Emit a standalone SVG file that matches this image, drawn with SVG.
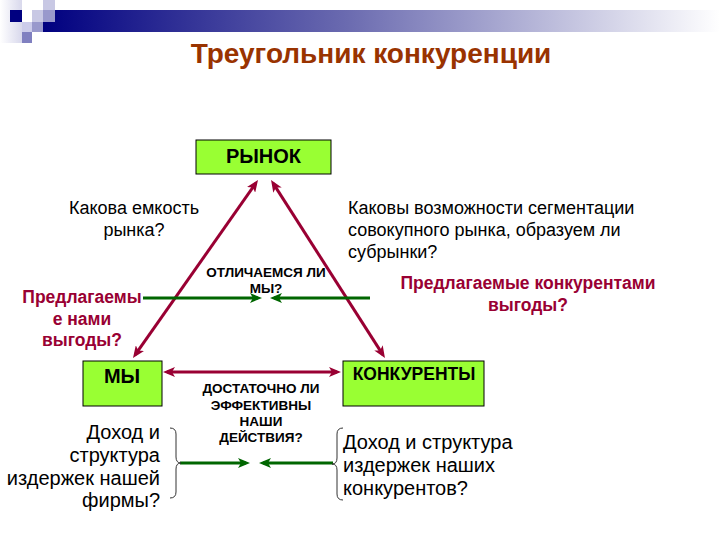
<svg xmlns="http://www.w3.org/2000/svg" width="720" height="540" viewBox="0 0 720 540">
<style>
.t{font-family:"Liberation Sans",Arial,sans-serif;fill:#000}
.b{font-weight:bold}
.red{fill:#990033;font-weight:bold}
.box{fill:#99ff33;stroke:#000;stroke-width:1}
.ra{stroke:#990033;stroke-width:3;fill:none}
.ga{stroke:#006600;stroke-width:3;fill:none}
.br{stroke:#333;stroke-width:1;fill:none}
</style>
<defs>
<linearGradient id="bar" x1="0" y1="0" x2="1" y2="0">
<stop offset="0" stop-color="#000080"/>
<stop offset="0.45" stop-color="#6b6bb0"/>
<stop offset="1" stop-color="#ffffff"/>
</linearGradient>
<linearGradient id="lv" x1="0" y1="0" x2="1" y2="0">
<stop offset="0" stop-color="#ffffff"/>
<stop offset="1" stop-color="#d8d8ec"/>
</linearGradient>
<marker id="rh" viewBox="0 0 12 10" refX="8" refY="5" markerWidth="12" markerHeight="10" markerUnits="userSpaceOnUse" orient="auto-start-reverse">
<path d="M0,0 L12,5 L0,10 L3,5 z" fill="#990033"/>
</marker>
<marker id="gh" viewBox="0 0 12 10" refX="8" refY="5" markerWidth="12" markerHeight="10" markerUnits="userSpaceOnUse" orient="auto-start-reverse">
<path d="M0,0 L12,5 L0,10 L3,5 z" fill="#006600"/>
</marker>
</defs>
<rect width="720" height="540" fill="#fff"/>
<g id="decor">
<rect x="0" y="0" width="22" height="43" fill="url(#lv)"/>
<rect x="43" y="10" width="677" height="22" fill="url(#bar)"/>
<rect x="10" y="10" width="12" height="12" fill="#000080"/>
<rect x="43" y="0" width="12" height="10" fill="#c8c8e4"/>
<rect x="32" y="10" width="11" height="12" fill="#c8c8e4"/>
<rect x="43" y="10" width="12" height="12" fill="#9999cc"/>
<rect x="22" y="22" width="10" height="10" fill="#ccccea"/>
<rect x="32" y="22" width="11" height="10" fill="#9999cc"/>
<rect x="22" y="32" width="10" height="11" fill="#8080c0"/>
</g>
<text class="t" x="371" y="63" text-anchor="middle" font-size="28" font-weight="bold" style="fill:#993300">Треугольник конкуренции</text>
<g id="connectors">
<line class="ra" x1="135.3" y1="354.7" x2="255.7" y2="183.3" marker-start="url(#rh)" marker-end="url(#rh)"/>
<line class="ra" x1="273.2" y1="183.4" x2="382.8" y2="354.6" marker-start="url(#rh)" marker-end="url(#rh)"/>
<line class="ra" x1="167" y1="372" x2="337" y2="372" marker-start="url(#rh)" marker-end="url(#rh)"/>
<line class="ga" x1="143" y1="298" x2="258" y2="298" marker-end="url(#gh)"/>
<line class="ga" x1="370" y1="298" x2="274" y2="298" marker-end="url(#gh)"/>
<line class="ga" x1="180" y1="463" x2="246" y2="463" marker-end="url(#gh)"/>
<line class="ga" x1="333" y1="463" x2="263" y2="463" marker-end="url(#gh)"/>
<path class="br" d="M170,428 Q176,428 176,434 L176,457 Q176,463 181,463 Q176,463 176,469 L176,492 Q176,498 170,498"/>
<path class="br" d="M343,428 Q337,428 337,434 L337,458 Q337,464 332,464 Q337,464 337,470 L337,494 Q337,500 343,500"/>
</g>
<g id="rynok">
<rect class="box" x="196" y="140" width="135" height="34"/>
<text class="t b" x="263.5" y="163" text-anchor="middle" font-size="20">РЫНОК</text>
</g>
<g id="my">
<rect class="box" x="83" y="361" width="79" height="45"/>
<text class="t b" x="122" y="383" text-anchor="middle" font-size="20">МЫ</text>
</g>
<g id="konkurenty">
<rect class="box" x="343" y="361" width="141" height="45"/>
<text class="t b" x="414" y="380" text-anchor="middle" font-size="17.5">КОНКУРЕНТЫ</text>
</g>
<g id="labels">
<text class="t" font-size="18" text-anchor="middle"><tspan x="134" y="214">Какова емкость</tspan><tspan x="134" y="236">рынка?</tspan></text>
<text class="t" font-size="18"><tspan x="348" y="214">Каковы возможности сегментации</tspan><tspan x="348" y="236">совокупного рынка, образуем ли</tspan><tspan x="348" y="258">субрынки?</tspan></text>
<text class="t b" font-size="13.5" text-anchor="middle"><tspan x="266" y="277">ОТЛИЧАЕМСЯ ЛИ</tspan><tspan x="266" y="293">МЫ?</tspan></text>
<text class="t red" font-size="17.5" text-anchor="middle"><tspan x="82" y="303">Предлагаемы</tspan><tspan x="82" y="325">е нами</tspan><tspan x="82" y="346">выгоды?</tspan></text>
<text class="t red" font-size="17.5" text-anchor="middle"><tspan x="528" y="289">Предлагаемые конкурентами</tspan><tspan x="528" y="311">выгоды?</tspan></text>
<text class="t b" font-size="13.5" text-anchor="middle"><tspan x="261" y="393">ДОСТАТОЧНО ЛИ</tspan><tspan x="261" y="410">ЭФФЕКТИВНЫ</tspan><tspan x="261" y="426">НАШИ</tspan><tspan x="261" y="442">ДЕЙСТВИЯ?</tspan></text>
<text class="t" font-size="20" text-anchor="end"><tspan x="160" y="439">Доход и</tspan><tspan x="160" y="462">структура</tspan><tspan x="160" y="485">издержек нашей</tspan><tspan x="160" y="507">фирмы?</tspan></text>
<text class="t" font-size="20"><tspan x="343" y="449">Доход и структура</tspan><tspan x="343" y="472">издержек наших</tspan><tspan x="343" y="495">конкурентов?</tspan></text>
</g>
</svg>
